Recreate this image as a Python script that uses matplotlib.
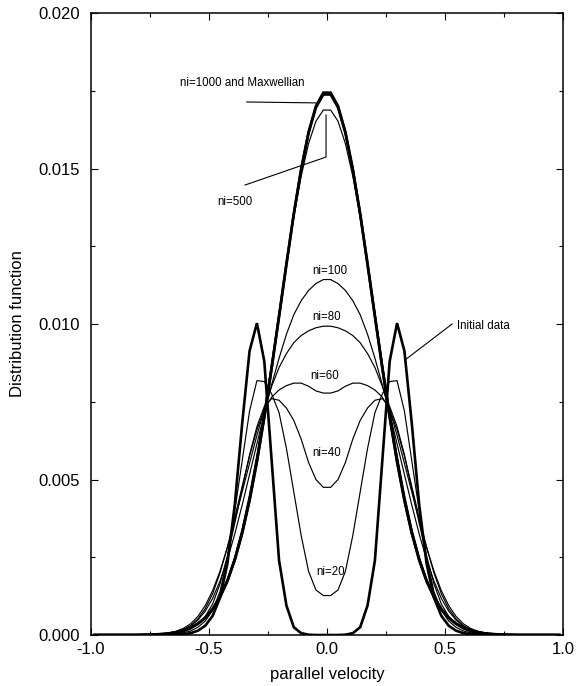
import numpy as np
import matplotlib
matplotlib.use("Agg")
import matplotlib.pyplot as plt
from matplotlib.ticker import MultipleLocator

plt.rcParams['font.family'] = ['Liberation Sans', 'DejaVu Sans']

# velocity grid: 64 cell centres on [-1, 1], curves are symmetric so only x > 0 is stored
n_cells = 64
x_half = (np.arange(n_cells // 2) + 0.5) * 2.0 / n_cells

initial = [0.0, 0.0, 0.00001, 0.00006, 0.00025, 0.00095, 0.00240, 0.00560,
           0.00880, 0.01003, 0.00913, 0.00680, 0.00420, 0.00230, 0.00120, 0.00062,
           0.00030, 0.00014, 0.00006, 0.00003, 0.00001, 0.0, 0.0, 0.0,
           0.0, 0.0, 0.0, 0.0, 0.0, 0.0, 0.0, 0.0]
ni20 = [0.00127, 0.00145, 0.00205, 0.00320, 0.00460, 0.00600, 0.00715, 0.00775,
        0.00815, 0.00818, 0.00720, 0.00560, 0.00400, 0.00250, 0.00140, 0.00080,
        0.00045, 0.00025, 0.00013, 0.00007, 0.00004, 0.00002, 0.00001, 0.0,
        0.0, 0.0, 0.0, 0.0, 0.0, 0.0, 0.0, 0.0]
ni40 = [0.00475, 0.00500, 0.00555, 0.00630, 0.00690, 0.00730, 0.00755, 0.00760,
        0.00735, 0.00670, 0.00580, 0.00470, 0.00360, 0.00255, 0.00165, 0.00100,
        0.00060, 0.00034, 0.00019, 0.00010, 0.00005, 0.00003, 0.00001, 0.0,
        0.0, 0.0, 0.0, 0.0, 0.0, 0.0, 0.0, 0.0]
ni60 = [0.00778, 0.00785, 0.00800, 0.00810, 0.00810, 0.00802, 0.00788, 0.00765,
        0.00725, 0.00660, 0.00575, 0.00478, 0.00378, 0.00283, 0.00200, 0.00133,
        0.00085, 0.00052, 0.00030, 0.00017, 0.00009, 0.00005, 0.00002, 0.00001,
        0.0, 0.0, 0.0, 0.0, 0.0, 0.0, 0.0, 0.0]
ni80 = [0.00993, 0.00988, 0.00978, 0.00963, 0.00940, 0.00905, 0.00860, 0.00800,
        0.00725, 0.00642, 0.00552, 0.00460, 0.00368, 0.00282, 0.00206, 0.00143,
        0.00095, 0.00060, 0.00036, 0.00021, 0.00012, 0.00006, 0.00003, 0.00001,
        0.0, 0.0, 0.0, 0.0, 0.0, 0.0, 0.0, 0.0]
ni100 = [0.01143, 0.01130, 0.01108, 0.01075, 0.01030, 0.00967, 0.00890, 0.00805,
         0.00712, 0.00615, 0.00516, 0.00418, 0.00325, 0.00243, 0.00174, 0.00118,
         0.00077, 0.00048, 0.00029, 0.00017, 0.00010, 0.00006, 0.00003, 0.00002,
         0.0, 0.0, 0.0, 0.0, 0.0, 0.0, 0.0, 0.0]
ni500 = [0.01688, 0.01652, 0.01580, 0.01475, 0.01345, 0.01195, 0.01035, 0.00875,
         0.00722, 0.00580, 0.00452, 0.00342, 0.00252, 0.00180, 0.00126, 0.00086,
         0.00058, 0.00038, 0.00024, 0.00015, 0.00009, 0.00005, 0.00003, 0.00002,
         0.00001, 0.0, 0.0, 0.0, 0.0, 0.0, 0.0, 0.0]
ni1000 = [0.01738, 0.01696, 0.01614, 0.01497, 0.01354, 0.01193, 0.01026, 0.00861,
          0.00703, 0.00560, 0.00435, 0.00329, 0.00243, 0.00175, 0.00123, 0.00084,
          0.00056, 0.00037, 0.00024, 0.00015, 0.00009, 0.00005, 0.00003, 0.00002,
          0.00001, 0.0, 0.0, 0.0, 0.0, 0.0, 0.0, 0.0]
maxwellian = [0.01744, 0.01701, 0.01617, 0.01498, 0.01354, 0.01192, 0.01024, 0.00858,
              0.00700, 0.00557, 0.00432, 0.00327, 0.00241, 0.00173, 0.00122, 0.00083,
              0.00055, 0.00036, 0.00023, 0.00014, 0.000085, 0.00005, 0.000028, 0.000015,
              0.00001, 0.000005, 0.0, 0.0, 0.0, 0.0, 0.0, 0.0]

thick = [initial, ni1000, maxwellian]
thin = [ni20, ni40, ni60, ni80, ni100, ni500]


def mirror(vals):
    """ extend a half profile to the full symmetric grid """
    v = np.asarray(vals)
    return np.concatenate([-x_half[::-1], x_half]), np.concatenate([v[::-1], v])


fig, ax = plt.subplots(figsize=(5.77, 6.86), dpi=100)
fig.subplots_adjust(left=0.1577, right=0.9757, top=0.981, bottom=0.0743)

for vals in thin:
    x, y = mirror(vals)
    ax.plot(x, y, color="black", lw=0.85, solid_joinstyle="miter")
for vals in thick:
    x, y = mirror(vals)
    ax.plot(x, y, color="black", lw=1.9, solid_joinstyle="miter")

ax.set_xlim(-1.0, 1.0)
ax.set_ylim(0.0, 0.020)
ax.xaxis.set_major_locator(MultipleLocator(0.5))
ax.xaxis.set_minor_locator(MultipleLocator(0.25))
ax.yaxis.set_major_locator(MultipleLocator(0.005))
ax.yaxis.set_minor_locator(MultipleLocator(0.0025))
ax.xaxis.set_major_formatter(matplotlib.ticker.FormatStrFormatter("%.1f"))
ax.yaxis.set_major_formatter(matplotlib.ticker.FormatStrFormatter("%.3f"))
ax.tick_params(which="both", direction="in", top=True, right=True, width=0.8)
ax.tick_params(which="major", length=5, labelsize=12)
ax.tick_params(which="minor", length=3)
ax.tick_params(axis="x", pad=5)
ax.tick_params(axis="y", pad=8)
for sp in ax.spines.values():
    sp.set_linewidth(1.1)

ax.set_xlabel("parallel velocity", fontsize=12)
ax.set_ylabel("Distribution function", fontsize=12)
ax.xaxis.set_label_coords(0.5, -0.051)
ax.yaxis.set_label_coords(-0.139, 0.5)

# curve labels
fs = 8.3
ax.text(-0.623, 0.01775, "ni=1000 and Maxwellian", fontsize=fs, va="center", ha="left")
ax.plot([-0.34, -0.042], [0.01714, 0.01711], color="black", lw=0.8)
ax.text(-0.466, 0.01392, "ni=500", fontsize=fs, va="center", ha="left")
ax.plot([-0.347, -0.004, -0.004], [0.01447, 0.01537, 0.01672], color="black", lw=0.8)
ax.text(0.01, 0.0117, "ni=100", fontsize=fs, va="center", ha="center")
ax.text(0.0, 0.01023, "ni=80", fontsize=fs, va="center", ha="center")
ax.text(-0.01, 0.00833, "ni=60", fontsize=fs, va="center", ha="center")
ax.text(0.0, 0.00585, "ni=40", fontsize=fs, va="center", ha="center")
ax.text(0.017, 0.00203, "ni=20", fontsize=fs, va="center", ha="center")
ax.text(0.551, 0.00994, "Initial data", fontsize=fs, va="center", ha="left")
ax.plot([0.53, 0.335], [0.0100, 0.00887], color="black", lw=0.8)

fig.savefig("out.png", dpi=100)
